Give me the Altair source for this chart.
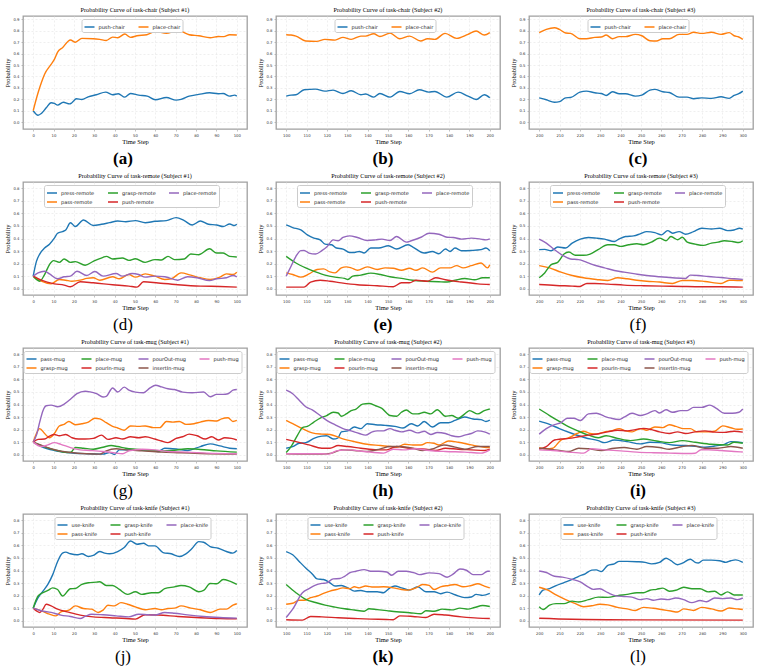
import altair as alt
import pandas as pd

SERIF = "Liberation Serif"
SANS = "DejaVu Sans"

BLUE, ORANGE, GREEN, RED = "#1f77b4", "#ff7f0e", "#2ca02c", "#d62728"
PURPLE, BROWN, PINK = "#9467bd", "#8c564b", "#e377c2"

# ---------------- task-chair ----------------
chair_1 = {
    "push-chair": [(0, 0.1), (2.4, 0.061), (4, 0.076), (6.4, 0.126), (8.8, 0.17), (10.4, 0.164), (12, 0.149),
                   (14.8, 0.175), (17.9, 0.16), (19, 0.17), (21.2, 0.205), (23.9, 0.199), (27, 0.222), (31, 0.24),
                   (35.6, 0.263), (39, 0.24), (41.8, 0.249), (45, 0.219), (47.8, 0.251), (51.8, 0.237), (56, 0.228),
                   (60, 0.196), (65.4, 0.216), (70.2, 0.193), (72.6, 0.199), (76.6, 0.228), (81.3, 0.243),
                   (86.6, 0.257), (90.9, 0.249), (93.3, 0.251), (96.5, 0.228), (98.9, 0.237), (100, 0.228)],
    "place-chair": [(0, 0.1), (2.4, 0.257), (4, 0.345), (5.6, 0.42), (8.8, 0.506), (10.4, 0.55), (12, 0.614),
                    (14.4, 0.652), (18.3, 0.72), (20.7, 0.70), (23.9, 0.734), (29.5, 0.731), (32.7, 0.725),
                    (35.9, 0.716), (39, 0.745), (41.5, 0.74), (45, 0.772), (47.8, 0.743), (51, 0.757), (55.8, 0.766),
                    (60, 0.795), (65.4, 0.778), (70.5, 0.798), (72.6, 0.795), (76.6, 0.766), (81.3, 0.757),
                    (86.9, 0.74), (90.9, 0.75), (93.6, 0.749), (96.5, 0.766), (100, 0.763)],
}
chair_2 = {
    "push-chair": [(100, 0.228), (102.4, 0.237), (104.8, 0.24), (108.8, 0.284), (114.4, 0.289), (119, 0.272),
                   (123, 0.281), (127.9, 0.251), (131.9, 0.275), (136.7, 0.24), (139, 0.246), (143, 0.219),
                   (146, 0.251), (151, 0.219), (155.8, 0.269), (160.6, 0.249), (165.4, 0.284), (170, 0.263),
                   (173, 0.269), (178.9, 0.219), (184.4, 0.263), (189.3, 0.228), (193.3, 0.199), (197.3, 0.24),
                   (200, 0.213)],
    "place-chair": [(100, 0.766), (102.4, 0.763), (104.8, 0.754), (109.6, 0.711), (115, 0.708), (119, 0.725),
                    (124, 0.719), (127.9, 0.743), (131.9, 0.725), (136.7, 0.754), (139, 0.754), (143, 0.775),
                    (146, 0.751), (151, 0.78), (155.8, 0.731), (160.6, 0.754), (166, 0.711), (169.4, 0.731),
                    (173, 0.725), (178, 0.778), (183.7, 0.734), (189.3, 0.769), (193.3, 0.798), (197.3, 0.763),
                    (200, 0.784)],
}
chair_3 = {
    "push-chair": [(200, 0.213), (203.5, 0.196), (207.5, 0.175), (210, 0.18), (213, 0.213), (215.4, 0.216),
                   (220, 0.263), (223.2, 0.272), (227.3, 0.257), (230.5, 0.251), (232.9, 0.234), (236, 0.266),
                   (239.3, 0.249), (242.4, 0.249), (247.2, 0.228), (250.4, 0.237), (254.4, 0.281), (256.8, 0.287),
                   (260.7, 0.266), (263.9, 0.26), (268.7, 0.219), (272.6, 0.219), (275.8, 0.205), (279.8, 0.213),
                   (284.6, 0.208), (289.3, 0.222), (293.3, 0.208), (295.7, 0.234), (298, 0.249), (300, 0.272)],
    "place-chair": [(200, 0.784), (203.5, 0.813), (207.5, 0.827), (209.9, 0.813), (213, 0.781), (215.4, 0.778),
                    (220, 0.731), (223.2, 0.731), (227.3, 0.743), (230.5, 0.746), (232.9, 0.763), (236, 0.731),
                    (239.3, 0.749), (242.4, 0.749), (247.2, 0.769), (250.4, 0.757), (254.4, 0.713), (257.6, 0.711),
                    (260.7, 0.731), (263.9, 0.731), (268.7, 0.769), (272.6, 0.769), (275.8, 0.787), (279.8, 0.778),
                    (284.6, 0.787), (289.3, 0.769), (293.3, 0.784), (295.7, 0.757), (298, 0.746), (300, 0.725)],
}

# ---------------- task-remote ----------------
remote_1 = {
    "press-remote": [(0, 0.1), (1.6, 0.218), (3.2, 0.276), (5.6, 0.324), (8, 0.355), (10.4, 0.403), (12, 0.442),
                     (14.4, 0.455), (16, 0.468), (18.3, 0.526), (20.7, 0.495), (24.7, 0.547), (29.5, 0.503),
                     (33.5, 0.513), (37.5, 0.526), (41.5, 0.539), (45.5, 0.534), (50.2, 0.542), (55, 0.526),
                     (59.8, 0.537), (65.4, 0.542), (70.2, 0.566), (74.2, 0.542), (78.1, 0.508), (82.1, 0.539),
                     (86.1, 0.513), (90.1, 0.508), (93.3, 0.495), (96.5, 0.516), (98.9, 0.503), (100, 0.513)],
    "pass-remote": [(0, 0.1), (4, 0.06), (8.8, 0.039), (12.8, 0.074), (16, 0.068), (19, 0.06), (23.1, 0.068),
                    (26.3, 0.082), (29.5, 0.087), (32.7, 0.068), (39, 0.095), (42.3, 0.079), (47, 0.113),
                    (50.2, 0.092), (55, 0.118), (59.8, 0.1), (64.6, 0.074), (67.8, 0.079), (72.6, 0.126),
                    (77.4, 0.108), (82.1, 0.087), (86.9, 0.074), (91.7, 0.092), (94.9, 0.118), (98.1, 0.113),
                    (100, 0.132)],
    "grasp-remote": [(0, 0.1), (1.6, 0.074), (3.2, 0.06), (5.6, 0.113), (8, 0.192), (10, 0.224), (12.8, 0.21),
                     (15.2, 0.237), (18.3, 0.21), (20.7, 0.216), (25.5, 0.187), (29.5, 0.218), (34.3, 0.25),
                     (35.9, 0.258), (39, 0.237), (43.8, 0.245), (47, 0.226), (50.2, 0.239), (55, 0.21),
                     (59.8, 0.232), (63, 0.229), (66.2, 0.258), (69.4, 0.232), (74.2, 0.237), (77.4, 0.276),
                     (81.3, 0.271), (86.6, 0.318), (90.1, 0.284), (93.3, 0.284), (96.5, 0.258), (100, 0.253)],
    "push-remote": [(0, 0.1), (4, 0.068), (10.4, 0.039), (15.2, 0.029), (18.3, 0.016), (23.1, 0.055),
                    (29.5, 0.047), (39, 0.032), (47, 0.021), (51, 0.013), (54.2, 0.055), (61.4, 0.045), (71, 0.032),
                    (82.1, 0.021), (91.7, 0.018), (100, 0.013)],
    "place-remote": [(0, 0.1), (2.4, 0.126), (5.6, 0.139), (8, 0.118), (12, 0.079), (15.2, 0.095), (18.3, 0.1),
                     (21.5, 0.139), (26.3, 0.105), (30.3, 0.137), (34.3, 0.1), (40.7, 0.121), (43.8, 0.1),
                     (48.6, 0.121), (51.8, 0.113), (55, 0.092), (59.8, 0.1), (64.6, 0.095), (71, 0.068),
                     (75.8, 0.095), (80.5, 0.087), (86.6, 0.065), (90.1, 0.079), (94.9, 0.087), (98.1, 0.105),
                     (100, 0.095)],
}
remote_2 = {
    "press-remote": [(100, 0.508), (103.2, 0.487), (107.2, 0.468), (110.4, 0.429), (113.6, 0.403), (116.7, 0.389),
                     (119.1, 0.355), (122.3, 0.35), (124.7, 0.324), (127.9, 0.316), (131.1, 0.289), (133.5, 0.289),
                     (135.9, 0.297), (138.3, 0.284), (141.5, 0.324), (145.5, 0.324), (150.2, 0.342), (154.2, 0.316),
                     (159.8, 0.35), (162.2, 0.332), (167.8, 0.284), (171.8, 0.297), (175, 0.279), (178.2, 0.316),
                     (180.5, 0.297), (182.9, 0.324), (186.1, 0.303), (190.9, 0.305), (195.7, 0.311), (198.1, 0.324),
                     (200, 0.303)],
    "pass-remote": [(100, 0.126), (103.2, 0.113), (107.2, 0.092), (111.2, 0.118), (115.2, 0.153), (118.3, 0.158),
                    (121.5, 0.134), (124, 0.126), (127.1, 0.166), (129.5, 0.174), (131.9, 0.166), (135, 0.147),
                    (139.8, 0.174), (144.7, 0.153), (148.6, 0.166), (152.6, 0.163), (156.6, 0.147), (160.6, 0.163),
                    (163.8, 0.147), (167, 0.166), (171.8, 0.132), (175.8, 0.166), (180.5, 0.166), (183.7, 0.184),
                    (186.9, 0.166), (190.9, 0.184), (195.7, 0.205), (198.9, 0.166), (200, 0.19)],
    "grasp-remote": [(100, 0.258), (104.8, 0.205), (109.6, 0.166), (114.4, 0.134), (119.1, 0.108), (124, 0.092),
                     (128.7, 0.082), (130.3, 0.074), (132.7, 0.1), (136.7, 0.108), (141.5, 0.124), (146.3, 0.113),
                     (151, 0.095), (156.6, 0.082), (162.2, 0.068), (168.6, 0.06), (175, 0.055), (179, 0.053),
                     (183, 0.068), (187.7, 0.082), (192.5, 0.071), (196.5, 0.087), (200, 0.087)],
    "push-remote": [(100, 0.013), (108.8, 0.013), (112, 0.053), (116.7, 0.068), (121.5, 0.06), (127.1, 0.047),
                    (135, 0.032), (144.7, 0.024), (152.6, 0.016), (156.6, 0.047), (160.6, 0.047), (163.8, 0.068),
                    (169.4, 0.06), (173.4, 0.087), (178.2, 0.071), (186.1, 0.053), (194.1, 0.039), (200, 0.034)],
    "place-remote": [(100, 0.1), (102.4, 0.179), (104.8, 0.258), (107.2, 0.303), (108.8, 0.305), (111.2, 0.284),
                     (114.4, 0.276), (117.5, 0.303), (119.9, 0.332), (123.1, 0.389), (125.5, 0.382), (127.9, 0.408),
                     (131.1, 0.421), (135, 0.408), (139.8, 0.384), (143.9, 0.389), (147, 0.395), (151, 0.384),
                     (154.2, 0.416), (159, 0.371), (161.4, 0.382), (166.2, 0.41), (170.2, 0.442), (175, 0.434),
                     (179, 0.41), (182.1, 0.408), (186.1, 0.395), (190.9, 0.403), (195.7, 0.395), (198.1, 0.389),
                     (200, 0.397)],
}
remote_3 = {
    "press-remote": [(200, 0.311), (202.7, 0.313), (205.9, 0.303), (209.1, 0.332), (213, 0.324), (216.2, 0.363),
                     (220.2, 0.395), (224.2, 0.408), (228.1, 0.403), (232.1, 0.395), (236.9, 0.376), (239.3, 0.397),
                     (242.4, 0.416), (246.4, 0.421), (249.6, 0.437), (252.8, 0.455), (256.8, 0.447), (260, 0.429),
                     (263.1, 0.463), (265.5, 0.442), (268.7, 0.455), (271.9, 0.434), (275.8, 0.455), (279.8, 0.482),
                     (284.6, 0.476), (288.6, 0.482), (292.5, 0.463), (295.7, 0.468), (298.4, 0.482), (300, 0.474)],
    "pass-remote": [(200, 0.184), (205.1, 0.166), (210.7, 0.132), (216.2, 0.105), (221.8, 0.087), (228.1, 0.074),
                    (233.7, 0.066), (238.5, 0.087), (243.2, 0.079), (248, 0.068), (252.8, 0.06), (259.1, 0.053),
                    (265.5, 0.042), (270.3, 0.066), (275, 0.066), (281.4, 0.058), (289.3, 0.042), (293.3, 0.068),
                    (297.3, 0.066), (300, 0.066)],
    "grasp-remote": [(200, 0.087), (202.7, 0.126), (205.9, 0.192), (209.1, 0.21), (212.2, 0.276), (214.6, 0.292),
                     (217.8, 0.266), (221.8, 0.266), (225, 0.276), (228.9, 0.311), (233.7, 0.35), (236.9, 0.35),
                     (240, 0.337), (244, 0.35), (248, 0.358), (251.2, 0.35), (255.1, 0.371), (259.1, 0.403),
                     (262.3, 0.382), (264.7, 0.416), (266.3, 0.403), (268, 0.39), (270.3, 0.41), (272.7, 0.371),
                     (276.6, 0.355), (280.6, 0.345), (284.6, 0.363), (287.8, 0.371), (290.9, 0.382), (294.9, 0.376),
                     (298.1, 0.368), (300, 0.382)],
    "push-remote": [(200, 0.034), (208.3, 0.026), (216.2, 0.021), (220, 0.018), (223.4, 0.042), (227.3, 0.042),
                    (233.7, 0.037), (241.7, 0.029), (251.2, 0.024), (260.7, 0.021), (270.3, 0.018), (279.8, 0.016),
                    (289.3, 0.016), (300, 0.013)],
    "place-remote": [(200, 0.395), (203.5, 0.363), (207.5, 0.311), (211.5, 0.266), (215.4, 0.237), (219.4, 0.232),
                     (223.4, 0.21), (227.3, 0.187), (232.1, 0.166), (236.9, 0.145), (241.7, 0.132), (247.2, 0.118),
                     (252.8, 0.105), (259.1, 0.095), (265.5, 0.087), (271.9, 0.082), (274.2, 0.108), (278.2, 0.105),
                     (283, 0.097), (289.3, 0.089), (295.7, 0.079), (300, 0.074)],
}

# ---------------- task-mug ----------------
mug_1 = {
    "pass-mug": [(0, 0.1), (4, 0.065), (10.4, 0.034), (16.7, 0.018), (26.3, 0.008), (34.3, 0.005), (37.5, 0.018),
                 (39.9, 0.002), (42.3, 0.039), (48.6, 0.039), (55, 0.036), (61.4, 0.026), (64.6, 0.052), (71, 0.044),
                 (75.8, 0.034), (82.1, 0.065), (86.9, 0.086), (91.7, 0.07), (96.5, 0.052), (100, 0.047)],
    "grasp-mug": [(0, 0.1), (1.6, 0.169), (3.2, 0.208), (5.6, 0.169), (8, 0.135), (10.4, 0.169), (12.8, 0.229),
                  (15.2, 0.242), (17.5, 0.265), (20.7, 0.239), (23.9, 0.247), (27.1, 0.26), (30.3, 0.291),
                  (32.7, 0.286), (35.9, 0.255), (39, 0.226), (41.5, 0.213), (44.7, 0.195), (47.8, 0.229),
                  (51.8, 0.226), (55, 0.229), (59, 0.216), (62.2, 0.216), (65.4, 0.265), (68.6, 0.26), (71.8, 0.265),
                  (75, 0.242), (79, 0.247), (82.1, 0.26), (86.1, 0.273), (90.1, 0.268), (92.5, 0.286), (95.7, 0.294),
                  (98.1, 0.265), (100, 0.273)],
    "place-mug": [(0, 0.1), (4, 0.073), (10.4, 0.039), (16.7, 0.018), (18.5, 0.02), (20.7, 0.057), (24.7, 0.052),
                  (29.5, 0.044), (34.3, 0.06), (38.3, 0.073), (41.5, 0.065), (45.5, 0.052), (50.2, 0.044),
                  (56.6, 0.036), (63, 0.031), (69.4, 0.036), (75.8, 0.047), (82.1, 0.042), (90.1, 0.031),
                  (100, 0.021)],
    "pourIn-mug": [(0, 0.1), (2.4, 0.122), (5.6, 0.125), (8, 0.148), (10.4, 0.161), (12.8, 0.151), (16, 0.161),
                   (19.1, 0.135), (22.3, 0.125), (25.5, 0.125), (29.5, 0.13), (33.5, 0.156), (36.7, 0.122),
                   (40.7, 0.135), (43.9, 0.125), (47.8, 0.143), (51.8, 0.135), (55, 0.143), (59.8, 0.125),
                   (63, 0.109), (66.2, 0.096), (70.2, 0.13), (73.4, 0.143), (76.6, 0.164), (80.5, 0.151),
                   (84.5, 0.125), (87.7, 0.143), (90.9, 0.117), (94.1, 0.135), (97.3, 0.13), (100, 0.117)],
    "pourOut-mug": [(0, 0.1), (1.6, 0.156), (3.2, 0.26), (4.8, 0.351), (6.4, 0.39), (8.8, 0.395), (12, 0.382),
                    (15.2, 0.403), (18.3, 0.442), (21.5, 0.486), (25.5, 0.506), (27.9, 0.501), (31.1, 0.486),
                    (34.3, 0.46), (35.9, 0.465), (39, 0.532), (41.5, 0.499), (44.7, 0.538), (47, 0.514),
                    (50.2, 0.499), (54.2, 0.494), (57.4, 0.532), (60.1, 0.553), (63, 0.54), (66.2, 0.525),
                    (69.4, 0.519), (73.4, 0.499), (78.1, 0.494), (83.7, 0.499), (86.9, 0.462), (90.1, 0.481),
                    (93.3, 0.481), (95.7, 0.486), (98.1, 0.514), (100, 0.519)],
    "insertIn-mug": [(0, 0.1), (5.6, 0.065), (12, 0.034), (18.3, 0.018), (26.3, 0.008), (32.7, 0.005),
                     (35.9, 0.031), (40.7, 0.047), (45.5, 0.039), (53.4, 0.031), (63, 0.021), (72.6, 0.016),
                     (82.1, 0.01), (100, 0.005)],
    "push-mug": [(0, 0.1), (4, 0.065), (7.2, 0.078), (10.4, 0.096), (13.6, 0.083), (18.3, 0.057), (23.1, 0.039),
                 (27.9, 0.034), (34.3, 0.026), (40.7, 0.013), (43.9, 0.008), (47, 0.031), (53.4, 0.044),
                 (59.8, 0.039), (66.2, 0.026), (75.8, 0.021), (85.3, 0.013), (100, 0.008)],
}
mug_2 = {
    "pass-mug": [(100, 0.052), (103.2, 0.065), (106.4, 0.091), (109.6, 0.096), (113.6, 0.13), (117.5, 0.148),
                 (119.9, 0.151), (123.1, 0.125), (125.5, 0.135), (127.1, 0.182), (130.3, 0.19), (133.5, 0.221),
                 (136.7, 0.208), (139.8, 0.247), (143.9, 0.239), (148.6, 0.234), (153.4, 0.226), (157.4, 0.213),
                 (161.4, 0.247), (164.6, 0.229), (167.8, 0.265), (171.8, 0.221), (175.8, 0.255), (179.8, 0.255),
                 (182.9, 0.273), (187.7, 0.30), (191.7, 0.285), (195.7, 0.28), (198.1, 0.265), (200, 0.275)],
    "grasp-mug": [(100, 0.273), (103.2, 0.247), (108, 0.208), (112.8, 0.174), (117.5, 0.164), (121.5, 0.161),
                  (127.1, 0.13), (133.5, 0.104), (139.8, 0.083), (146.3, 0.073), (151, 0.065), (154.2, 0.06),
                  (158.2, 0.083), (162.2, 0.078), (166.2, 0.078), (169.4, 0.096), (172.6, 0.091), (175, 0.078),
                  (179.8, 0.109), (184.5, 0.099), (190.9, 0.078), (197.3, 0.06), (200, 0.057)],
    "place-mug": [(100, 0.018), (102.4, 0.065), (105.6, 0.156), (108, 0.216), (110.4, 0.226), (113.6, 0.26),
                  (116.7, 0.291), (119.9, 0.312), (123.1, 0.338), (125.5, 0.332), (127.1, 0.306), (129.5, 0.325),
                  (131.9, 0.351), (134.3, 0.364), (137.5, 0.403), (140.7, 0.408), (143.9, 0.39), (147, 0.369),
                  (151, 0.312), (154.2, 0.306), (156.6, 0.338), (159, 0.356), (162.2, 0.325), (164.6, 0.325),
                  (167.8, 0.338), (171, 0.325), (174.2, 0.358), (178.2, 0.306), (181.3, 0.312), (184.5, 0.291),
                  (187.7, 0.325), (190.1, 0.351), (194.1, 0.325), (197.3, 0.351), (200, 0.364)],
    "pourIn-mug": [(100, 0.122), (104.8, 0.104), (111.2, 0.078), (117.5, 0.052), (121.5, 0.052), (125.5, 0.073),
                   (130.3, 0.065), (136.7, 0.052), (144.7, 0.039), (149.4, 0.039), (154.2, 0.065), (160.6, 0.052),
                   (168.6, 0.044), (173.4, 0.034), (178.2, 0.052), (184.5, 0.044), (190.9, 0.039), (197.3, 0.034),
                   (200, 0.044)],
    "pourOut-mug": [(100, 0.514), (103.2, 0.486), (106.4, 0.434), (109.6, 0.382), (112.8, 0.358), (116.7, 0.312),
                    (119.9, 0.273), (123.9, 0.239), (127.9, 0.208), (131.9, 0.19), (135.9, 0.169), (139, 0.156),
                    (142.3, 0.182), (144.7, 0.19), (147.8, 0.19), (151, 0.208), (153.4, 0.195), (156.6, 0.182),
                    (160.6, 0.195), (164.6, 0.174), (167.8, 0.187), (171, 0.161), (174.2, 0.177), (178.2, 0.169),
                    (181.3, 0.151), (184.5, 0.143), (187.7, 0.156), (190.9, 0.169), (194.1, 0.19), (197.3, 0.182),
                    (200, 0.164)],
    "insertIn-mug": [(100, 0.008), (117.5, 0.005), (122.3, 0.013), (127.1, 0.039), (133.5, 0.034), (139.8, 0.026),
                     (146.3, 0.047), (151, 0.065), (155.8, 0.065), (162.2, 0.052), (167, 0.034), (171.8, 0.047),
                     (177.4, 0.078), (182.9, 0.06), (187.7, 0.044), (194.1, 0.065), (200, 0.065)],
    "push-mug": [(100, 0.008), (117.5, 0.008), (121, 0.005), (124.7, 0.031), (130.3, 0.039), (138.3, 0.026),
                 (147.8, 0.013), (152.6, 0.044), (157.4, 0.039), (163.8, 0.047), (170.2, 0.034), (178.2, 0.026),
                 (187.7, 0.021), (195.7, 0.013), (200, 0.039)],
}
mug_3 = {
    "pass-mug": [(200, 0.268), (205.1, 0.242), (209.9, 0.208), (216.2, 0.169), (222.6, 0.135), (229, 0.112),
                 (232.1, 0.096), (236.9, 0.117), (243.2, 0.104), (249.6, 0.086), (254.4, 0.099), (259.1, 0.096),
                 (265.5, 0.078), (271.9, 0.073), (278.2, 0.065), (281.4, 0.06), (286.2, 0.07), (290.9, 0.083),
                 (294.1, 0.104), (300, 0.096)],
    "grasp-mug": [(200, 0.057), (203.5, 0.047), (206.7, 0.052), (210.7, 0.117), (214.6, 0.135), (218.6, 0.169),
                  (221.8, 0.187), (225, 0.169), (228.1, 0.164), (232.1, 0.182), (235.3, 0.19), (239.3, 0.208),
                  (242.4, 0.19), (245.6, 0.182), (249.6, 0.208), (252.8, 0.195), (256.8, 0.221), (260.7, 0.216),
                  (263.9, 0.239), (267.1, 0.226), (271, 0.208), (274.2, 0.208), (277.4, 0.182), (281.4, 0.182),
                  (286.2, 0.187), (290.1, 0.23), (294.1, 0.215), (297.3, 0.203), (300, 0.205)],
    "place-mug": [(200, 0.364), (205.1, 0.312), (209.9, 0.265), (214.6, 0.221), (219.4, 0.187), (224.2, 0.156),
                  (229, 0.135), (232.9, 0.151), (238.5, 0.13), (244.8, 0.112), (251.2, 0.125), (257.6, 0.109),
                  (263.9, 0.096), (270.3, 0.112), (276.6, 0.099), (284.6, 0.083), (292.5, 0.078), (295.7, 0.099),
                  (300, 0.091)],
    "pourIn-mug": [(200, 0.044), (203.5, 0.065), (207.5, 0.117), (210.7, 0.125), (214.6, 0.13), (219.4, 0.143),
                   (224.2, 0.156), (229.7, 0.169), (233.7, 0.182), (238.5, 0.195), (243.2, 0.19), (247.2, 0.2),
                   (251.2, 0.21), (255.2, 0.2), (259.1, 0.182), (263.9, 0.169), (267.9, 0.182), (271.9, 0.169),
                   (276.6, 0.182), (281.4, 0.19), (286.2, 0.18), (290.9, 0.178), (295.7, 0.187), (300, 0.18)],
    "pourOut-mug": [(200, 0.164), (203.5, 0.208), (207.5, 0.239), (210.7, 0.255), (213.8, 0.291), (217, 0.291),
                    (220.2, 0.273), (224.2, 0.325), (228.1, 0.33), (232.1, 0.306), (235.3, 0.291), (239.3, 0.281),
                    (241.7, 0.299), (245.6, 0.33), (249.6, 0.312), (252.8, 0.325), (256.8, 0.351), (259.1, 0.332),
                    (262.3, 0.358), (265.5, 0.338), (269.5, 0.351), (272.7, 0.351), (275.8, 0.377), (279.8, 0.377),
                    (283.8, 0.395), (287, 0.369), (290.9, 0.33), (294.9, 0.33), (298.1, 0.338), (300, 0.364)],
    "insertIn-mug": [(200, 0.052), (205.1, 0.044), (209.9, 0.034), (214.6, 0.026), (219.4, 0.052), (224.2, 0.047),
                     (230.5, 0.034), (236.9, 0.052), (241.7, 0.057), (248, 0.044), (252.8, 0.065), (259.1, 0.057),
                     (263.9, 0.044), (270.3, 0.065), (275, 0.073), (281.4, 0.052), (287.8, 0.052), (294.1, 0.065),
                     (300, 0.052)],
    "push-mug": [(200, 0.039), (206.7, 0.034), (214.6, 0.021), (221.8, 0.013), (225.7, 0.047), (232.1, 0.039),
                 (240, 0.031), (248, 0.021), (256, 0.016), (263.9, 0.013), (273.4, 0.01), (276.5, 0.012),
                 (279.5, 0.04), (283, 0.04), (289.3, 0.034), (295.7, 0.026), (300, 0.022)],
}

# ---------------- task-knife ----------------
knife_1 = {
    "use-knife": [(0, 0.1), (2.4, 0.184), (4.8, 0.236), (7.2, 0.289), (9.6, 0.367), (12, 0.472), (14.4, 0.538),
                  (16, 0.546), (18.3, 0.533), (21.5, 0.525), (23.9, 0.533), (27.1, 0.512), (29.5, 0.52),
                  (32.7, 0.551), (35.1, 0.538), (37.5, 0.533), (41.5, 0.551), (44.7, 0.583), (47.8, 0.635),
                  (51, 0.609), (54.2, 0.617), (56.6, 0.596), (59.8, 0.596), (63.8, 0.543), (67.8, 0.533),
                  (71.8, 0.512), (75, 0.533), (78.1, 0.577), (81.3, 0.63), (83.7, 0.625), (86.9, 0.591),
                  (90.9, 0.577), (94.9, 0.551), (98.1, 0.538), (100, 0.559)],
    "pass-knife": [(0, 0.1), (4, 0.079), (8, 0.052), (11.2, 0.039), (13.6, 0.071), (17.5, 0.084), (20.7, 0.118),
                   (24.7, 0.097), (28.7, 0.092), (31.9, 0.066), (34.3, 0.084), (36.7, 0.123), (39.9, 0.118),
                   (43.1, 0.144), (46.3, 0.131), (50.2, 0.11), (55, 0.087), (59.8, 0.097), (63, 0.087),
                   (66.2, 0.097), (69.4, 0.1), (72.6, 0.118), (77.4, 0.1), (82.1, 0.087), (86.9, 0.066),
                   (91.7, 0.092), (94.9, 0.092), (98.1, 0.125), (100, 0.135)],
    "grasp-knife": [(0, 0.1), (2.4, 0.197), (4.8, 0.223), (7.2, 0.241), (9.6, 0.262), (12, 0.249), (14.4, 0.197),
                    (18.3, 0.255), (20.7, 0.257), (23.9, 0.289), (27.1, 0.302), (31.1, 0.307), (32.7, 0.31),
                    (35.9, 0.281), (39, 0.281), (42.3, 0.249), (46.3, 0.21), (50.2, 0.231), (53.4, 0.21),
                    (58.2, 0.223), (61.4, 0.223), (64.6, 0.255), (69.4, 0.27), (72.6, 0.281), (76.6, 0.27),
                    (81.3, 0.231), (83.7, 0.241), (86.9, 0.297), (90.1, 0.294), (93.3, 0.328), (96.5, 0.315),
                    (100, 0.289)],
    "push-knife": [(0, 0.1), (1.6, 0.079), (3.2, 0.066), (4.8, 0.092), (6.4, 0.131), (8.8, 0.118), (12, 0.092),
                   (16.7, 0.071), (23.1, 0.045), (29.5, 0.031), (37.5, 0.024), (45.5, 0.018), (50.2, 0.013),
                   (55, 0.047), (61.4, 0.045), (71, 0.034), (82.1, 0.024), (91.7, 0.018), (100, 0.016)],
    "place-knife": [(0, 0.1), (4, 0.079), (8.8, 0.066), (13.6, 0.045), (18.3, 0.034), (23.1, 0.018), (25.5, 0.034),
                    (28.7, 0.052), (34.3, 0.047), (40.7, 0.039), (47, 0.031), (51.8, 0.052), (56.6, 0.047),
                    (59.8, 0.045), (64.6, 0.066), (69.4, 0.06), (75.8, 0.047), (83.7, 0.034), (91.7, 0.026),
                    (100, 0.021)],
}
knife_2 = {
    "use-knife": [(100, 0.551), (103.2, 0.525), (106.4, 0.472), (109.6, 0.42), (112.8, 0.373), (115.2, 0.333),
                  (118.3, 0.328), (121.5, 0.302), (124, 0.276), (127.1, 0.281), (130.3, 0.262), (133.5, 0.236),
                  (136.7, 0.241), (139.8, 0.231), (144.7, 0.231), (147.8, 0.223), (151, 0.262), (153.4, 0.276),
                  (156.6, 0.262), (160.6, 0.244), (164.6, 0.27), (168.6, 0.231), (172.6, 0.231), (175.8, 0.215),
                  (179, 0.228), (182.9, 0.207), (187.7, 0.184), (190.9, 0.189), (193.3, 0.21), (196.5, 0.202),
                  (200, 0.218)],
    "pass-knife": [(100, 0.131), (103.2, 0.139), (106.4, 0.163), (108.8, 0.163), (112, 0.184), (115.2, 0.197),
                   (118.3, 0.218), (121.5, 0.236), (124.7, 0.249), (127.9, 0.262), (131.1, 0.255), (133.5, 0.27),
                   (135.9, 0.262), (139, 0.276), (143, 0.268), (147.8, 0.27), (152.6, 0.262), (156.6, 0.249),
                   (159.8, 0.244), (163.8, 0.262), (167, 0.289), (170.2, 0.281), (172.6, 0.249), (175.8, 0.27),
                   (179.8, 0.281), (182.9, 0.289), (186.9, 0.27), (190.9, 0.281), (194.1, 0.294), (197.3, 0.276),
                   (200, 0.262)],
    "grasp-knife": [(100, 0.289), (104.8, 0.223), (109.6, 0.17), (114.4, 0.145), (119.1, 0.124), (124, 0.108),
                    (128.7, 0.095), (133.5, 0.085), (138.3, 0.075), (140.7, 0.095), (144.7, 0.088), (149.4, 0.08),
                    (154.2, 0.072), (160.6, 0.064), (166.2, 0.056), (168.6, 0.08), (172.6, 0.075), (176.6, 0.092),
                    (181.3, 0.086), (185.3, 0.1), (189.3, 0.092), (192.5, 0.105), (196.5, 0.121), (200, 0.113)],
    "push-knife": [(100, 0.008), (108, 0.005), (112, 0.034), (117.5, 0.031), (125.5, 0.024), (133.5, 0.018),
                   (141.5, 0.013), (149.4, 0.01), (152.6, 0.008), (155.8, 0.039), (162.2, 0.034), (168.6, 0.026),
                   (172.6, 0.052), (178.2, 0.045), (186.1, 0.031), (194.1, 0.021), (200, 0.018)],
    "place-knife": [(100, 0.026), (103.2, 0.092), (108, 0.223), (111.2, 0.255), (114.4, 0.283), (117.5, 0.297),
                    (119.9, 0.302), (123.1, 0.333), (126.3, 0.336), (128.7, 0.354), (131.1, 0.381), (134.3, 0.394),
                    (138.3, 0.407), (141.5, 0.394), (145.5, 0.394), (149.4, 0.388), (151.8, 0.362), (155, 0.394),
                    (159, 0.394), (163, 0.381), (165.4, 0.367), (170.2, 0.381), (175, 0.375), (179, 0.346),
                    (182.1, 0.373), (185.3, 0.412), (188.5, 0.402), (191.7, 0.367), (195.7, 0.367), (198.9, 0.394),
                    (200, 0.394)],
}
knife_3 = {
    "use-knife": [(200, 0.205), (201.9, 0.243), (205.1, 0.255), (208.3, 0.28), (212.2, 0.304), (216.2, 0.329),
                  (219.4, 0.354), (222.6, 0.374), (225.8, 0.403), (228, 0.405), (230.5, 0.391), (233.7, 0.441),
                  (236.9, 0.453), (239.3, 0.473), (243.2, 0.473), (248, 0.47), (252, 0.465), (255.2, 0.453),
                  (259.1, 0.465), (262.3, 0.498), (264.7, 0.478), (267.9, 0.446), (270.3, 0.458), (274.2, 0.49),
                  (276.6, 0.465), (278.2, 0.46), (280.6, 0.483), (284.6, 0.483), (288.6, 0.478), (291.7, 0.465),
                  (294.1, 0.478), (296.5, 0.485), (300, 0.465)],
    "pass-knife": [(200, 0.267), (204.3, 0.243), (208.3, 0.205), (213, 0.168), (217.8, 0.136), (221.8, 0.111),
                   (225.8, 0.119), (229.7, 0.131), (233.7, 0.126), (238.5, 0.106), (243.2, 0.094), (247.2, 0.082),
                   (251.2, 0.106), (256, 0.099), (260.7, 0.087), (264.7, 0.077), (267.9, 0.069), (271, 0.094),
                   (275.8, 0.082), (279.8, 0.106), (284.6, 0.094), (289.3, 0.077), (293.3, 0.101), (297.3, 0.094),
                   (300, 0.089)],
    "grasp-knife": [(200, 0.111), (201.9, 0.089), (205.1, 0.124), (208.3, 0.136), (212.2, 0.136), (216.2, 0.156),
                    (219.4, 0.149), (224.2, 0.168), (229, 0.188), (233.7, 0.186), (238.5, 0.2), (243.2, 0.21),
                    (248, 0.223), (251.2, 0.223), (254.4, 0.243), (257.6, 0.25), (260.7, 0.26), (263.9, 0.235),
                    (267.1, 0.243), (271, 0.267), (275, 0.255), (279, 0.255), (283, 0.23), (286.2, 0.235),
                    (289.3, 0.205), (292.5, 0.23), (295.7, 0.205), (300, 0.205)],
    "push-knife": [(200, 0.02), (216.2, 0.012), (248, 0.007), (300, 0.005)],
    "place-knife": [(200, 0.396), (203.5, 0.384), (207.5, 0.354), (211.4, 0.347), (216.2, 0.329), (220.2, 0.309),
                    (224.2, 0.267), (226.6, 0.25), (229.7, 0.255), (233.7, 0.223), (237.7, 0.198), (241.7, 0.193),
                    (245.6, 0.188), (249.6, 0.168), (252.8, 0.176), (256, 0.163), (259.9, 0.173), (263.1, 0.168),
                    (267.1, 0.181), (271, 0.168), (275, 0.144), (279, 0.161), (282.2, 0.151), (286.2, 0.181),
                    (290.1, 0.176), (294.1, 0.181), (297.3, 0.168), (300, 0.181)],
}

# Legend entries in series order; the legend fills its columns top to bottom.
# lw is the legend box width, used to centre it across the plot.
TASKS = {
    "chair": dict(order=["push-chair", "place-chair"], colors=[BLUE, ORANGE], cols=2, lw=103),
    "remote": dict(order=["press-remote", "pass-remote", "grasp-remote", "push-remote", "place-remote"],
                   colors=[BLUE, ORANGE, GREEN, RED, PURPLE], cols=3, lw=178),
    "mug": dict(order=["pass-mug", "grasp-mug", "place-mug", "pourIn-mug", "pourOut-mug", "insertIn-mug",
                       "push-mug"],
                colors=[BLUE, ORANGE, GREEN, RED, PURPLE, BROWN, PINK], cols=4, lw=219),
    "knife": dict(order=["use-knife", "pass-knife", "grasp-knife", "push-knife", "place-knife"],
                  colors=[BLUE, ORANGE, GREEN, RED, PURPLE], cols=3, lw=157),
}

GRID = [
    ("chair", [chair_1, chair_2, chair_3], ["(a)", "(b)", "(c)"], [True, True, True]),
    ("remote", [remote_1, remote_2, remote_3], ["(d)", "(e)", "(f)"], [False, True, False]),
    ("mug", [mug_1, mug_2, mug_3], ["(g)", "(h)", "(i)"], [False, True, True]),
    ("knife", [knife_1, knife_2, knife_3], ["(j)", "(k)", "(l)"], [False, True, False]),
]

W, H = 224, 113
CAPTION_X = [100, 107, 109]


def panel(task, series, subject, col, caption, bold, top_row):
    spec = TASKS[task]
    rows = [{"t": t, "p": p, "s": name} for name, pts in series.items() for t, p in pts]
    df = pd.DataFrame(rows)
    x0 = 100 * col
    if top_row:
        ydom, yticks = [-0.06, 0.93], [i / 10 for i in range(10)]
    else:
        ydom, yticks = [-0.05, 0.85], [i / 10 for i in range(9)]
    lines = alt.Chart(df).mark_line(strokeWidth=1.4, interpolate="monotone").encode(
        x=alt.X("t:Q", title="Time Step",
                scale=alt.Scale(domain=[x0 - 5, x0 + 105], nice=False, zero=False),
                axis=alt.Axis(values=list(range(x0, x0 + 101, 10)))),
        y=alt.Y("p:Q", title="Probability",
                scale=alt.Scale(domain=ydom, nice=False, zero=False),
                axis=alt.Axis(values=yticks, format=".1f")),
        color=alt.Color("s:N", scale=alt.Scale(domain=spec["order"], range=spec["colors"]),
                        legend=alt.Legend(title=None, orient="none", legendX=(W - spec["lw"]) / 2 - 2,
                                          legendY=3, columns=spec["cols"], direction="vertical",
                                          gridAlign="each", symbolType="stroke", symbolSize=100,
                                          symbolStrokeWidth=1.5, labelFont=SANS, labelFontSize=5.0,
                                          labelOffset=3, columnPadding=10, rowPadding=0, padding=2,
                                          strokeColor="#cccccc", cornerRadius=2, fillColor="white",
                                          labelColor="#222")),
    )
    cap = alt.Chart(pd.DataFrame({"c": [caption]})).mark_text(
        font=SERIF, fontSize=17, fontWeight="bold" if bold else "normal", color="black"
    ).encode(text="c:N", x=alt.value(CAPTION_X[col]), y=alt.value(143))
    title = f"Probability Curve of task-{task} (Subject #{subject})"
    return alt.layer(lines, cap).properties(
        width=W, height=H,
        title=alt.TitleParams(title, font=SERIF, fontSize=6.2, fontWeight="normal", color="black",
                              anchor="middle", offset=3),
    )


panels = []
for r, (task, runs, caps, bolds) in enumerate(GRID):
    for i, s in enumerate(runs):
        panels.append(panel(task, s, i + 1, i, caps[i], bolds[i], r == 0))

chart = alt.concat(*panels, columns=3, spacing={"row": 53, "column": 29}, bounds="flush").resolve_scale(
    color="independent").resolve_legend(color="independent").configure(
    padding={"left": 4, "top": 6, "right": 4, "bottom": 4}, background="white"
).configure_view(stroke="#a0a0a0", strokeWidth=1.3).configure_axis(
    labelFont=SANS, labelFontSize=3.8, labelColor="#333333", tickSize=2, tickColor="#999999",
    tickWidth=0.6, domain=False, grid=True, gridColor="#e4e4e4", gridDash=[2, 2], gridWidth=0.6,
    titleFont=SERIF, titleFontSize=6.5, titleFontWeight="normal", titleColor="black",
    labelPadding=2, titlePadding=2,
)

chart.save("out.html", embed_options={"renderer": "svg", "actions": False})
